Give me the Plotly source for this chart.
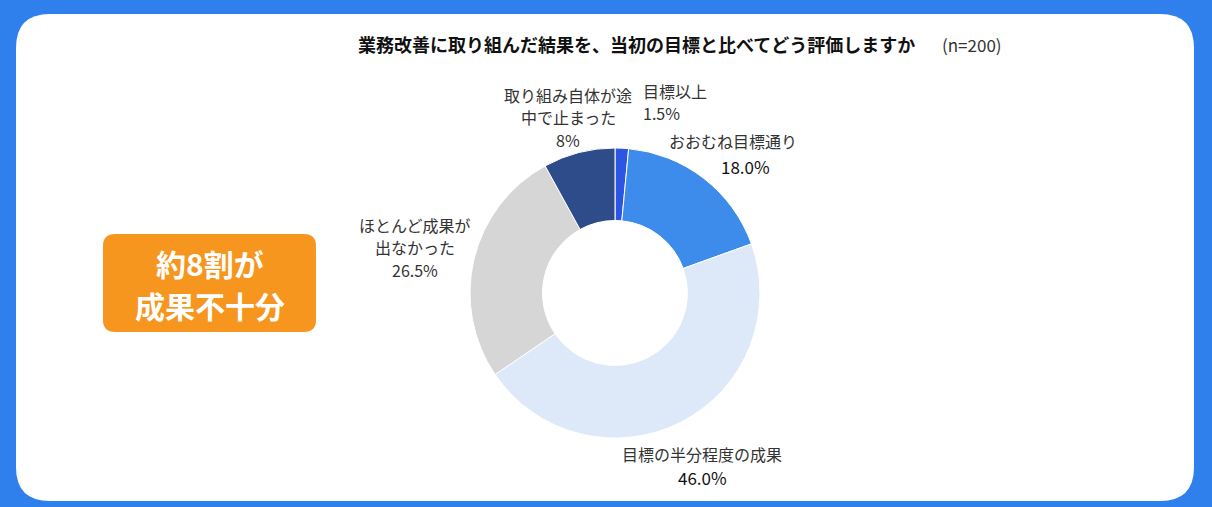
import plotly.graph_objects as go

W, H = 1212, 507

categories = ["目標以上", "おおむね目標通り", "目標の半分程度の成果", "ほとんど成果が出なかった", "取り組み自体が途中で止まった"]
values = [1.5, 18.0, 46.0, 26.5, 8.0]
value_labels = ["1.5%", "18.0%", "46.0%", "26.5%", "8%"]
label_lines = [["目標以上"], ["おおむね目標通り"], ["目標の半分程度の成果"], ["ほとんど成果が", "出なかった"], ["取り組み自体が途", "中で止まった"]]
colors = ["#2c55e4", "#3d8bea", "#dde9f8", "#d6d6d6", "#2e4b8a"]

title_main = "業務改善に取り組んだ結果を、当初の目標と比べてどう評価しますか"
title_n = "(n=200)"
callout = ["約8割が", "成果不十分"]

FONT = "Noto Sans CJK JP"

def px(x):
    return x / W

def py(y):
    return 1 - y / H

fig = go.Figure()
fig.add_trace(go.Pie(
    labels=categories, values=values, hole=0.5, sort=False, direction="clockwise",
    rotation=0, marker=dict(colors=colors, line=dict(color="white", width=1)),
    textinfo="none", hoverinfo="label+percent", showlegend=False,
    domain=dict(x=[px(470), px(760)], y=[py(438), py(148)]),
))

def rounded_rect(x0, y0, x1, y1, r):
    return (f"M {px(x0 + r)},{py(y0)} L {px(x1 - r)},{py(y0)} Q {px(x1)},{py(y0)} {px(x1)},{py(y0 + r)} "
            f"L {px(x1)},{py(y1 - r)} Q {px(x1)},{py(y1)} {px(x1 - r)},{py(y1)} "
            f"L {px(x0 + r)},{py(y1)} Q {px(x0)},{py(y1)} {px(x0)},{py(y1 - r)} "
            f"L {px(x0)},{py(y0 + r)} Q {px(x0)},{py(y0)} {px(x0 + r)},{py(y0)} Z")

shapes = [
    dict(type="path", xref="paper", yref="paper", path=rounded_rect(16, 14, 1194, 501, 34),
         fillcolor="white", line=dict(width=0), layer="below"),
    dict(type="path", xref="paper", yref="paper", path=rounded_rect(103, 234, 316, 332, 12),
         fillcolor="#f7961f", line=dict(width=0), layer="below"),
]

annotations = []
def add_text(text, x, y, size, color, bold=False, xanchor="center"):
    t = f"<b>{text}</b>" if bold else text
    annotations.append(dict(text=t, x=px(x), y=py(y), xref="paper", yref="paper",
                            xanchor=xanchor, yanchor="middle", showarrow=False,
                            font=dict(family=FONT, size=size, color=color)))

add_text(title_main, 356, 44, 18, "#111111", bold=True, xanchor="left")
add_text(title_n, 940, 44, 17, "#333333", xanchor="left")
add_text(callout[0], 210, 263, 30, "white", bold=True)
add_text(callout[1], 210, 305, 30, "white", bold=True)

# label placement in pixels per category: (x, first-line y, anchor)
label_pos = [(641, 91, "left"), (733, 141, "center"), (702, 454, "center"), (415, 225, "center"), (568, 95, "center")]
pct_pos = [(641, 113), (745, 166), (702, 477), (415, 270), (568, 140)]
pct_color = ["#333333", "#111111", "#111111", "#333333", "#333333"]
pct_size = [16, 17, 17, 16, 16]
for i, lines in enumerate(label_lines):
    x, y0, anc = label_pos[i]
    for j, ln in enumerate(lines):
        add_text(ln, x, y0 + j * 22.5, 16, "#333333", xanchor=anc)
    add_text(value_labels[i], pct_pos[i][0], pct_pos[i][1], pct_size[i], pct_color[i], xanchor=anc)

fig.update_layout(
    width=W, height=H, margin=dict(l=0, r=0, t=0, b=0),
    paper_bgcolor="#2f80ec", plot_bgcolor="#2f80ec",
    shapes=shapes, annotations=annotations, font=dict(family=FONT),
)

fig.write_html("out.html", config={"displayModeBar": False},
               post_script="document.body.style.margin='0';document.body.style.overflow='hidden';")
